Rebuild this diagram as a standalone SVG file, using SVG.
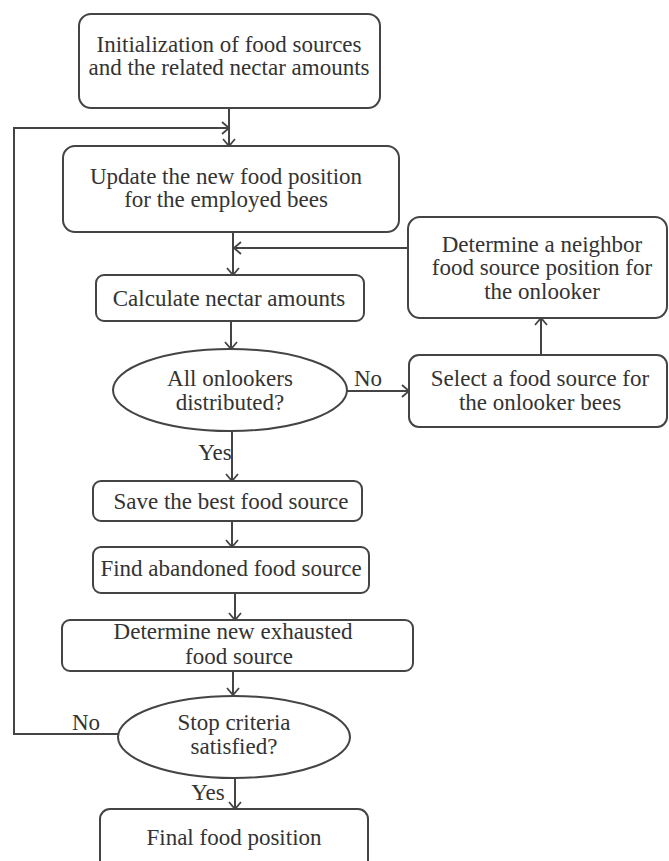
<svg xmlns="http://www.w3.org/2000/svg" width="669" height="861" viewBox="0 0 669 861">
<defs>
<style>
.b{fill:#fff;stroke:#444;stroke-width:2}
.t{font-family:"Liberation Serif","Times New Roman",serif;font-size:23px;fill:#333;text-anchor:middle}
.c{fill:none;stroke:#444;stroke-width:2}
</style>
<marker id="a" markerWidth="14" markerHeight="14" refX="11" refY="7" orient="auto" markerUnits="userSpaceOnUse">
<path d="M4,1 L11,7 L4,13" fill="none" stroke="#444" stroke-width="1.8"/>
</marker>
</defs>
<rect width="669" height="861" fill="#fff"/>
<g id="connectors">
<path class="c" d="M229,108 V146" marker-end="url(#a)"/>
<path class="c" d="M118,734 H14 V128 H229" marker-end="url(#a)"/>
<path class="c" d="M233,232 V275" marker-end="url(#a)"/>
<path class="c" d="M408,248 H234" marker-end="url(#a)"/>
<path class="c" d="M231,321 V349" marker-end="url(#a)"/>
<path class="c" d="M347,391 H409" marker-end="url(#a)"/>
<path class="c" d="M541,355 V318" marker-end="url(#a)"/>
<path class="c" d="M232,431 V481" marker-end="url(#a)"/>
<path class="c" d="M232,521 V547" marker-end="url(#a)"/>
<path class="c" d="M235,593 V620" marker-end="url(#a)"/>
<path class="c" d="M233,671 V695" marker-end="url(#a)"/>
<path class="c" d="M235,778 V809" marker-end="url(#a)"/>
<text class="t" x="368" y="386">No</text>
<text class="t" x="86" y="730">No</text>
<text class="t" x="215" y="460">Yes</text>
<text class="t" x="208" y="800">Yes</text>
</g>
<g id="init">
<rect class="b" x="79" y="14" width="301" height="94" rx="12"/>
<text class="t" x="229" y="52">Initialization of food sources</text>
<text class="t" x="229" y="75">and the related nectar amounts</text>
</g>
<g id="update">
<rect class="b" x="63" y="146" width="336" height="86" rx="12"/>
<text class="t" x="226" y="184">Update the new food position</text>
<text class="t" x="226" y="207">for the employed bees</text>
</g>
<g id="neighbor">
<rect class="b" x="408" y="217" width="259" height="101" rx="12"/>
<text class="t" x="542" y="252">Determine a neighbor</text>
<text class="t" x="542" y="275">food source position for</text>
<text class="t" x="542" y="299">the onlooker</text>
</g>
<g id="calc">
<rect class="b" x="96" y="275" width="268" height="46" rx="8"/>
<text class="t" x="229" y="306">Calculate nectar amounts</text>
</g>
<g id="onlookers">
<ellipse class="b" cx="230" cy="390" rx="117" ry="41"/>
<text class="t" x="230" y="386">All onlookers</text>
<text class="t" x="230" y="410">distributed?</text>
</g>
<g id="select">
<rect class="b" x="409" y="355" width="258" height="72" rx="10"/>
<text class="t" x="540" y="386">Select a food source for</text>
<text class="t" x="540" y="410">the onlooker bees</text>
</g>
<g id="save">
<rect class="b" x="93" y="481" width="269" height="40" rx="8"/>
<text class="t" x="231" y="509">Save the best food source</text>
</g>
<g id="find">
<rect class="b" x="93" y="547" width="276" height="46" rx="8"/>
<text class="t" x="231" y="576">Find abandoned food source</text>
</g>
<g id="exhausted">
<rect class="b" x="62" y="620" width="351" height="51" rx="8"/>
<text class="t" x="233" y="639">Determine new exhausted</text>
<text class="t" x="239" y="664">food source</text>
</g>
<g id="stop">
<ellipse class="b" cx="234" cy="737" rx="116" ry="41"/>
<text class="t" x="234" y="730">Stop criteria</text>
<text class="t" x="234" y="754">satisfied?</text>
</g>
<g id="final">
<rect class="b" x="100" y="809" width="268" height="62" rx="10"/>
<text class="t" x="234" y="845">Final food position</text>
</g>
</svg>
